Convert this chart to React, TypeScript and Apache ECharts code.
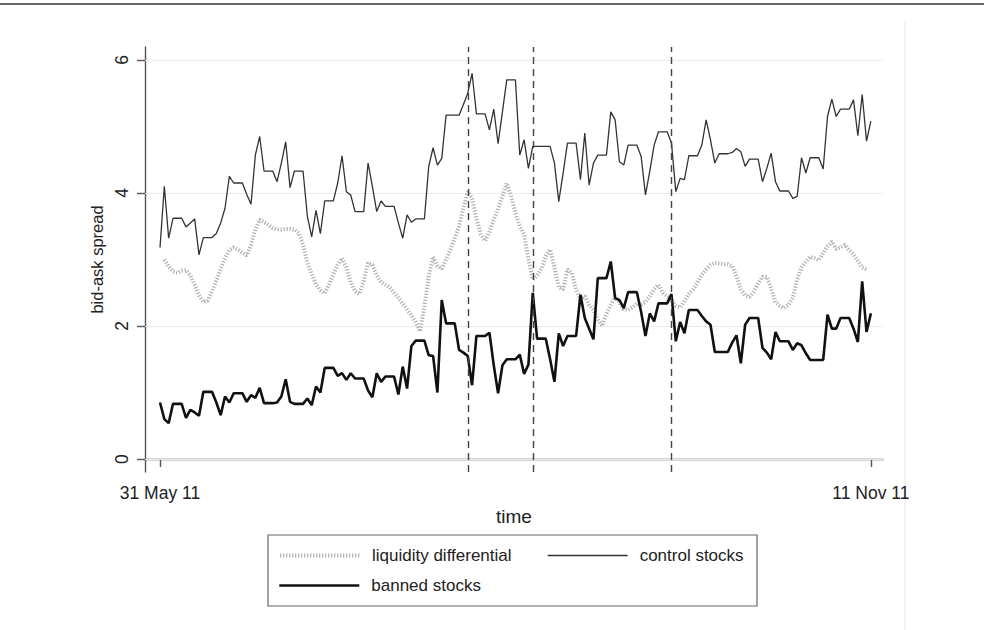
import React, { useEffect, useRef } from "react";
import * as echarts from "echarts";

// Daily bid-ask spreads from 31 May 2011 onwards (weekend days repeat Friday's quote).
const startDate = "2011-05-31";

const controlStocks = [
  3.18, 4.10, 3.32, 3.62, 3.62, 3.62, 3.49, 3.55, 3.61, 3.07,
  3.33, 3.33, 3.33, 3.39, 3.55, 3.77, 4.25, 4.15, 4.15, 4.15,
  3.98, 3.83, 4.57, 4.85, 4.33, 4.33, 4.33, 4.17, 4.45, 4.77,
  4.08, 4.33, 4.33, 4.33, 3.65, 3.34, 3.74, 3.39, 3.88, 3.88,
  3.88, 4.15, 4.56, 4.02, 3.97, 3.72, 3.72, 3.72, 4.45, 4.10,
  3.72, 3.88, 3.80, 3.80, 3.80, 3.55, 3.32, 3.67, 3.56, 3.61,
  3.61, 3.61, 4.40, 4.68, 4.42, 4.52, 5.17, 5.17, 5.17, 5.17,
  5.33, 5.50, 5.80, 5.19, 5.19, 5.19, 4.95, 5.26, 4.74, 5.22,
  5.70, 5.70, 5.70, 4.57, 4.80, 4.37, 4.70, 4.70, 4.70, 4.70,
  4.70, 4.45, 3.87, 4.30, 4.75, 4.75, 4.75, 4.20, 4.90, 4.12,
  4.45, 4.57, 4.57, 4.57, 5.22, 5.10, 4.47, 4.42, 4.72, 4.72,
  4.72, 4.55, 3.97, 4.33, 4.72, 4.92, 4.92, 4.92, 4.75, 4.02,
  4.22, 4.20, 4.56, 4.56, 4.56, 4.72, 5.10, 4.80, 4.45, 4.59,
  4.59, 4.59, 4.61, 4.67, 4.62, 4.40, 4.51, 4.51, 4.51, 4.17,
  4.37, 4.60, 4.17, 4.03, 4.03, 4.03, 3.92, 3.95, 4.53, 4.30,
  4.53, 4.53, 4.53, 4.36, 5.15, 5.41, 5.15, 5.26, 5.26, 5.26,
  5.40, 4.86, 5.48, 4.78, 5.08,
];

const bannedStocks = [
  0.85, 0.60, 0.54, 0.83, 0.83, 0.83, 0.62, 0.74, 0.70, 0.65,
  1.01, 1.01, 1.01, 0.85, 0.66, 0.94, 0.85, 0.99, 0.99, 0.99,
  0.86, 0.96, 0.92, 1.07, 0.84, 0.84, 0.84, 0.85, 0.94, 1.20,
  0.86, 0.83, 0.83, 0.83, 0.91, 0.81, 1.09, 1.00, 1.37, 1.37,
  1.37, 1.25, 1.29, 1.19, 1.29, 1.21, 1.21, 1.21, 1.03, 0.93,
  1.29, 1.16, 1.24, 1.24, 1.24, 0.97, 1.39, 1.06, 1.70, 1.78,
  1.78, 1.78, 1.56, 1.55, 1.00, 2.39, 2.04, 2.04, 2.04, 1.64,
  1.60, 1.55, 1.11, 1.85, 1.85, 1.85, 1.90, 1.41, 0.99, 1.41,
  1.50, 1.50, 1.50, 1.57, 1.28, 1.42, 2.50, 1.81, 1.81, 1.81,
  1.50, 1.16, 1.89, 1.70, 1.85, 1.85, 1.85, 2.47, 2.12, 1.96,
  1.80, 2.72, 2.72, 2.72, 2.97, 2.42, 2.39, 2.27, 2.51, 2.51,
  2.51, 2.21, 1.85, 2.19, 2.07, 2.34, 2.34, 2.34, 2.48, 1.77,
  2.06, 1.89, 2.24, 2.24, 2.24, 2.15, 2.07, 2.02, 1.61, 1.61,
  1.61, 1.61, 1.75, 1.86, 1.44, 2.02, 2.12, 2.12, 2.12, 1.67,
  1.60, 1.50, 1.91, 1.77, 1.77, 1.77, 1.64, 1.74, 1.71, 1.59,
  1.49, 1.49, 1.49, 1.49, 2.17, 1.96, 1.96, 2.12, 2.12, 2.12,
  1.96, 1.76, 2.67, 1.91, 2.19,
];

const liquidityDifferential = [
  null, 3.00, 2.90, 2.82, 2.80, 2.83, 2.84, 2.76, 2.62, 2.46,
  2.36, 2.38, 2.52, 2.68, 2.86, 3.02, 3.14, 3.18, 3.15, 3.10,
  3.06, 3.22, 3.45, 3.60, 3.56, 3.52, 3.47, 3.45, 3.45, 3.46,
  3.46, 3.45, 3.40, 3.22, 2.95, 2.78, 2.62, 2.54, 2.49, 2.62,
  2.78, 2.92, 3.02, 2.88, 2.66, 2.52, 2.48, 2.68, 2.95, 2.92,
  2.76, 2.66, 2.62, 2.58, 2.50, 2.42, 2.34, 2.25, 2.16, 2.06,
  1.92, 2.30, 2.75, 3.04, 2.90, 2.86, 3.00, 3.15, 3.32, 3.50,
  3.78, 4.02, 3.92, 3.62, 3.38, 3.28, 3.42, 3.60, 3.76, 3.95,
  4.15, 3.95, 3.70, 3.50, 3.38, 3.00, 2.70, 2.76, 2.86, 3.05,
  3.15, 2.88, 2.58, 2.55, 2.85, 2.80, 2.55, 2.40, 2.45, 2.32,
  2.24, 2.10, 2.00, 2.18, 2.32, 2.44, 2.36, 2.25, 2.24, 2.28,
  2.34, 2.32, 2.36, 2.45, 2.55, 2.62, 2.50, 2.45, 2.40, 2.30,
  2.28, 2.38, 2.48, 2.55, 2.65, 2.77, 2.85, 2.92, 2.95, 2.94,
  2.93, 2.93, 2.90, 2.75, 2.55, 2.46, 2.44, 2.52, 2.64, 2.74,
  2.74, 2.56, 2.36, 2.30, 2.27, 2.32, 2.42, 2.70, 2.88, 2.97,
  3.04, 3.02, 2.99, 3.10, 3.20, 3.27, 3.16, 3.18, 3.22, 3.14,
  3.08, 2.98, 2.88, 2.85, null,
];

const eventDates = ["2011-08-10", "2011-08-25", "2011-09-26"];
const yTickValues = [0, 2, 4, 6];
const xTickDates = ["2011-05-31", "2011-11-11"];
const monthNames = ["Jan", "Feb", "Mar", "Apr", "May", "Jun", "Jul", "Aug", "Sep", "Oct", "Nov", "Dec"];

const DAY = 86400000;
const FONT = "'Liberation Sans', Arial, Helvetica, sans-serif";
const parseDay = (s: string) => Date.parse(s + "T00:00:00Z");
const t0 = parseDay(startDate);
const dayStamps = controlStocks.map((_, i) => t0 + i * DAY);
const toPairs = (vals: (number | null)[]) => vals.map((v, i) => [dayStamps[i], v]);

const fmtDate = (val: number) => {
  const d = new Date(val);
  return `${d.getUTCDate()} ${monthNames[d.getUTCMonth()]} ${String(d.getUTCFullYear()).slice(2)}`;
};

// x axis is a linear scale over UTC timestamps
const xTicks = xTickDates.map(parseDay);
const xMin = xTicks[0] - 3.46 * DAY;
const xMax = xTicks[1] + 2.8 * DAY;

const axisColor = "#555";
const textColor = "#222";

const liquidityStyle = { color: "#b4b4b4", width: 4, type: [1.3, 1.7] };
const controlStyle = { color: "#333", width: 1.3, type: "solid" };
const bannedStyle = { color: "#111", width: 2.6, type: "solid" };

// one legend block per entry so the two-column layout can be placed exactly
const legendBase = {
  orient: "horizontal" as const,
  padding: 0,
  itemWidth: 80,
  itemHeight: 20,
  selectedMode: false,
  itemStyle: { opacity: 0 },
  textStyle: { fontSize: 17, color: textColor, fontFamily: FONT, padding: [0, 0, 0, 7] },
};

const option = {
  animation: false,
  backgroundColor: "#ffffff",
  textStyle: { fontFamily: FONT },
  grid: { left: 145, right: 101, top: 47, bottom: 158 },
  xAxis: {
    type: "value",
    min: xMin,
    max: xMax,
    name: "time",
    nameLocation: "middle",
    nameGap: 34,
    nameTextStyle: { fontSize: 19, color: textColor, fontFamily: FONT },
    axisLine: { show: true, lineStyle: { color: axisColor, width: 1.4 } },
    axisTick: { show: true, customValues: xTicks, length: 8, lineStyle: { color: axisColor, width: 1.4 } },
    axisLabel: {
      customValues: xTicks,
      formatter: (v: number) => fmtDate(v),
      margin: 12,
      fontSize: 17.5,
      color: textColor,
      fontFamily: FONT,
    },
    splitLine: { show: false },
  },
  yAxis: {
    type: "value",
    min: -0.195,
    max: 6.195,
    name: "bid-ask spread",
    nameLocation: "middle",
    nameRotate: 90,
    nameGap: 40,
    nameTextStyle: { fontSize: 16.5, color: textColor, fontFamily: FONT },
    axisLine: { show: true, lineStyle: { color: axisColor, width: 1.4 } },
    axisTick: { show: true, customValues: yTickValues, length: 8, lineStyle: { color: axisColor, width: 1.4 } },
    axisLabel: {
      customValues: yTickValues,
      rotate: 90,
      margin: 14,
      fontSize: 17.5,
      color: textColor,
      fontFamily: FONT,
    },
    splitLine: { show: false },
  },
  legend: [
    { ...legendBase, data: ["liquidity differential"], left: 278, top: 547, lineStyle: liquidityStyle },
    { ...legendBase, data: ["control stocks"], left: 547, top: 547, lineStyle: controlStyle },
    { ...legendBase, data: ["banned stocks"], left: 278, top: 577, lineStyle: bannedStyle },
  ],
  graphic: [
    { type: "line", shape: { x1: 0, y1: 4, x2: 984, y2: 4 }, style: { stroke: "#333", lineWidth: 1.5 }, z: 0 },
    { type: "line", shape: { x1: 905, y1: 22, x2: 905, y2: 630 }, style: { stroke: "#e6e6e6", lineWidth: 1 }, z: 0 },
    {
      type: "rect",
      shape: { x: 268, y: 535, width: 489, height: 71 },
      style: { fill: "#ffffff", stroke: "#666", lineWidth: 1.2 },
      z: 0,
    },
  ],
  series: [
    {
      name: "liquidity differential",
      type: "line",
      data: toPairs(liquidityDifferential),
      symbol: "none",
      connectNulls: false,
      lineStyle: liquidityStyle,
      itemStyle: { color: "#b4b4b4" },
      z: 2,
      markLine: {
        silent: true,
        symbol: "none",
        label: { show: false },
        lineStyle: { color: "#ebebeb", width: 1, type: "solid" },
        data: yTickValues.map((v) => ({ yAxis: v })),
        z: 1,
      },
    },
    {
      name: "control stocks",
      type: "line",
      data: toPairs(controlStocks),
      symbol: "none",
      lineStyle: controlStyle,
      itemStyle: { color: "#333" },
      z: 3,
    },
    {
      name: "banned stocks",
      type: "line",
      data: toPairs(bannedStocks),
      symbol: "none",
      lineStyle: bannedStyle,
      itemStyle: { color: "#111" },
      z: 4,
      markLine: {
        silent: true,
        symbol: "none",
        label: { show: false },
        lineStyle: { color: "#444", width: 1.4, type: [7, 5] },
        data: eventDates.map((d) => ({ xAxis: parseDay(d) })),
      },
    },
  ],
};

export default function App() {
  const ref = useRef<HTMLDivElement>(null);
  useEffect(() => {
    if (!ref.current) return;
    const chart = echarts.init(ref.current, null, { renderer: "svg" });
    chart.setOption(option as any);
    return () => chart.dispose();
  }, []);
  return (
    <div
      ref={ref}
      style={{ position: "fixed", left: 0, top: 0, width: 984, height: 630, background: "#fff" }}
    />
  );
}
